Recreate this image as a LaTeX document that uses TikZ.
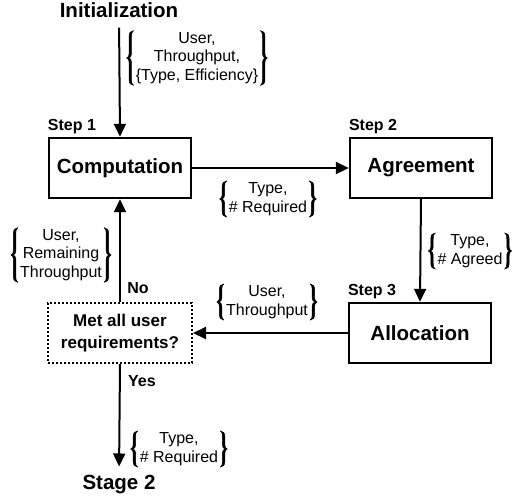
\documentclass[tikz,border=0pt]{standalone}
\usepackage{fontspec}
\setmainfont{Liberation Sans}
\usetikzlibrary{arrows.meta,calc}
% one brace beside a node: #1 node, #2 side (west/east), #3 sign (1 or -1)
\newcommand\onebrace[3]{%
  \filldraw[brc] let \p1=(#1.north #2), \p2=(#1.south #2), \n1={(\y1+\y2)/2} in
   ({\x1+(#3)*7pt},\y1)
   .. controls ({\x1+(#3)*4pt},{\y1-0.3pt}) and ({\x1+(#3)*2.5pt},{\y1-2pt}) .. ({\x1+(#3)*2.5pt},{\y1-6pt})
   -- ({\x1+(#3)*2.5pt},{\n1*1pt+5pt})
   .. controls ({\x1+(#3)*2.5pt},{\n1*1pt+1.5pt}) and ({\x1+(#3)*1.2pt},{\n1*1pt+0.4pt}) .. (\x1,{\n1*1pt})
   .. controls ({\x1+(#3)*1.2pt},{\n1*1pt-0.4pt}) and ({\x1+(#3)*2.5pt},{\n1*1pt-1.5pt}) .. ({\x1+(#3)*2.5pt},{\n1*1pt-5pt})
   -- ({\x1+(#3)*2.5pt},{\y2+6pt})
   .. controls ({\x1+(#3)*2.5pt},{\y2+2pt}) and ({\x1+(#3)*4pt},{\y2+0.3pt}) .. ({\x1+(#3)*7pt},\y2)
   .. controls ({\x1+(#3)*5.2pt},{\y2+1pt}) and ({\x1+(#3)*4.9pt},{\y2+3pt}) .. ({\x1+(#3)*4.9pt},{\y2+6pt})
   -- ({\x1+(#3)*4.9pt},{\n1*1pt-4pt})
   .. controls ({\x1+(#3)*4.9pt},{\n1*1pt-1.5pt}) and ({\x1+(#3)*3.8pt},{\n1*1pt-0.4pt}) .. ({\x1+(#3)*2pt},{\n1*1pt})
   .. controls ({\x1+(#3)*3.8pt},{\n1*1pt+0.4pt}) and ({\x1+(#3)*4.9pt},{\n1*1pt+1.5pt}) .. ({\x1+(#3)*4.9pt},{\n1*1pt+4pt})
   -- ({\x1+(#3)*4.9pt},{\y1-6pt})
   .. controls ({\x1+(#3)*4.9pt},{\y1-3pt}) and ({\x1+(#3)*5.2pt},{\y1-1pt}) .. ({\x1+(#3)*7pt},\y1) -- cycle;}
\newcommand\bracepair[1]{\onebrace{#1}{west}{1}\onebrace{#1}{east}{-1}}
\begin{document}
\begin{tikzpicture}[x=1pt,y=-1pt,
 box/.style={draw, line width=2.4pt, minimum width=142pt, minimum height=60pt, inner sep=0pt, font=\fontsize{20.5}{24}\selectfont\bfseries},
 dec/.style={draw, line width=2pt, dash pattern=on 2pt off 2pt, minimum width=144pt, minimum height=60pt, inner sep=0pt, align=center, font=\fontsize{17}{21.5}\selectfont\bfseries},
 arr/.style={line width=2pt, -{Triangle[length=13pt,width=12pt]}},
 big/.style={inner sep=0pt, font=\fontsize{20.5}{24}\selectfont\bfseries},
 steplbl/.style={inner sep=0pt, anchor=base west, yshift=6pt, font=\fontsize{16}{19}\selectfont\bfseries},
 yn/.style={inner sep=0pt, font=\fontsize{16}{19}\selectfont\bfseries},
 brace/.style={inner xsep=9pt, inner ysep=1.5pt, align=center, font=\fontsize{16}{18.5}\selectfont},
 brc/.style={line width=0.5pt, line join=round}
]
\useasboundingbox (0,0) rectangle (515,499);
\node[big] (init) at (119,10) {Initialization};
\node[box] (comp) at (120,168) {Computation};
\node[box] (agree) at (421,168) {Agreement};
\node[box] (alloc) at (420,333) {Allocation};
\node[dec] (met) at (120,333) {Met all user\\requirements?};
\node[big] (stage) at (119,485) {Stage 2};

\node[steplbl] (s1) at (comp.north west) {Step 1};
\node[steplbl] (s2) at (agree.north west) {Step 2};
\node[steplbl] (s3) at (alloc.north west) {Step 3};

\draw[arr, shorten <=10pt] (init.south) -- (comp.north);
\draw[arr] (comp.east) -- (agree.west);
\draw[arr] (agree.south) -- (alloc.north);
\draw[arr] (alloc.west) -- (met.east);
\draw[arr] (met.north) -- (comp.south);
\draw[arr, shorten >=9pt] (met.south) -- (stage.north);

\node[brace] (b1) at (197,58) {User,\\Throughput,\\\{Type, Efficiency\}};
\node[brace] (b2) at (268,199) {Type,\\\# Required};
\node[brace] (b3) at (470,251) {Type,\\\# Agreed};
\node[brace] (b4) at (267,302) {User,\\Throughput};
\node[brace] (b5) at (61,255) {User,\\Remaining\\Throughput};
\node[brace] (b6) at (179,449) {Type,\\\# Required};
\bracepair{b1}\bracepair{b2}\bracepair{b3}\bracepair{b4}\bracepair{b5}\bracepair{b6}

\node[yn] (no) at (138,288) {No};
\node[yn] (yes) at (142,381) {Yes};
\end{tikzpicture}
\end{document}
